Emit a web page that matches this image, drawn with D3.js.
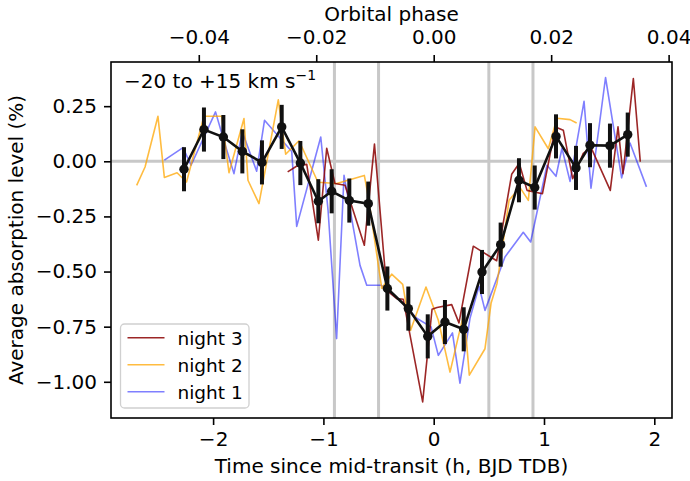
<!DOCTYPE html>
<html>
<head>
<meta charset="utf-8">
<script src="https://cdn.jsdelivr.net/npm/d3@7"></script>
<style>
  body { margin: 0; background: #fff; }
  text { font-family: "DejaVu Sans", sans-serif; }
</style>
</head>
<body>
<svg id="chart"></svg>
<script>
// light curve of the absorption, binned + the three nights

let width = 690, height = 481;
let margin = {top: 62, right: 18, bottom: 63, left: 111};

// orbital period in hours, used for the top axis
let periodHours = 2.21857 * 24;

// binned points (black)
let binT = [-2.264, -2.083, -1.907, -1.735, -1.557, -1.378, -1.209, -1.046, -0.925, -0.765,
  -0.593, -0.42, -0.23, -0.054, 0.102, 0.272, 0.438, 0.607, 0.773, 0.916,
  1.109, 1.29, 1.417, 1.598, 1.759];
let binY = [-0.036, 0.144, 0.110, 0.045, -0.005, 0.156, -0.008, -0.181, -0.136, -0.178,
  -0.192, -0.577, -0.668, -0.794, -0.729, -0.762, -0.502, -0.378, -0.086, -0.119,
  0.113, -0.030, 0.073, 0.071, 0.121];
let binErr = [0.10, 0.10, 0.10, 0.10, 0.10, 0.10, 0.10, 0.10, 0.10, 0.10,
  0.10, 0.10, 0.10, 0.10, 0.10, 0.10, 0.10, 0.10, 0.10, 0.10,
  0.10, 0.10, 0.10, 0.10, 0.10];

// night 1 (blue)
let n1T = [-2.442, -2.273, -2.200, -1.978, -1.908, -1.811, -1.735, -1.605, -1.534, -1.287,
  -1.242, -1.024, -0.958, -0.880, -0.813, -0.668, -0.607, -0.478, -0.290, -0.154,
  -0.024, 0.042, 0.170, 0.238, 0.329, 0.411, 0.465, 0.646, 0.812, 0.879,
  1.027, 1.109, 1.163, 1.236, 1.363, 1.426, 1.558, 1.704, 1.780, 1.929];
let n1Y = [0.005, 0.062, -0.018, 0.224, 0.103, -0.056, 0.133, -0.045, 0.186, 0.044,
  -0.295, 0.110, -0.220, -0.804, -0.064, -0.472, -0.562, -0.562, -0.638, -0.712,
  -0.751, -0.880, -0.778, -1.006, -0.712, -0.567, -0.676, -0.434, -0.322, -0.366,
  -0.018, -0.068, 0.059, -0.091, 0.272, -0.122, 0.380, -0.075, 0.083, -0.116];

// night 2 (orange)
let n2T = [-2.693, -2.617, -2.500, -2.442, -2.327, -2.241, -2.083, -1.922, -1.856, -1.720,
  -1.684, -1.584, -1.409, -1.342, -1.221, -1.049, -0.879, -0.629, -0.593, -0.471,
  -0.381, -0.281, -0.210, -0.070, 0.042, 0.148, 0.275, 0.323, 0.465, 0.520,
  0.574, 0.619, 0.683, 0.782, 0.858, 0.919, 1.039, 1.118, 1.236, 1.296];
let n2Y = [-0.109, -0.026, 0.204, -0.073, -0.052, -0.094, 0.204, 0.204, -0.052, 0.194,
  -0.086, -0.192, 0.279, 0.032, 0.093, -0.095, -0.101, -0.064, -0.161, -0.576,
  -0.512, -0.558, -0.767, -0.570, -0.721, -0.956, -0.685, -0.970, -0.850, -0.644,
  -0.554, -0.404, -0.177, -0.118, -0.177, 0.156, 0.057, 0.195, 0.189, 0.174];

// night 3 (dark red)
let n3T = [-1.324, -1.230, -1.151, -1.046, -0.970, -0.895, -0.804, -0.629, -0.537, -0.426,
  -0.335, -0.276, -0.100, -0.015, 0.030, 0.163, 0.229, 0.359, 0.571, 0.707,
  0.776, 0.846, 0.986, 1.104, 1.175, 1.260, 1.356, 1.426, 1.601, 1.671,
  1.716, 1.810, 1.873];
let n3Y = [-0.048, -0.018, -0.014, -0.358, 0.059, -0.101, -0.109, -0.381, 0.078, -0.585,
  -0.623, -0.626, -1.091, -0.671, -0.663, -0.650, -0.733, -0.385, -0.451, -0.059,
  -0.009, -0.132, -0.147, 0.156, 0.141, -0.079, 0.036, 0.063, -0.132, 0.156,
  -0.056, 0.375, -0.002];

// contact points (h)
let contacts = [-0.9, -0.5, 0.5, 0.9];

let nights = [
  {name: "night 3", t: n3T, y: n3Y, color: "#8b0000", alpha: 0.85},
  {name: "night 2", t: n2T, y: n2Y, color: "#ffa500", alpha: 0.75},
  {name: "night 1", t: n1T, y: n1Y, color: "#0000ff", alpha: 0.5}
];

let svg = d3.select("#chart")
  .attr("width", width)
  .attr("height", height);

let x = d3.scaleLinear()
  .domain([-2.9257, 2.1605])
  .range([margin.left, width - margin.right]);

let y = d3.scaleLinear()
  .domain([-1.1642, 0.4503])
  .range([height - margin.bottom, margin.top]);

let xPhase = d3.scaleLinear()
  .domain(x.domain().map(d => d / periodHours))
  .range(x.range());

let plot = svg.append("g");

// grey reference lines
plot.append("line")
  .attr("x1", x.range()[0]).attr("x2", x.range()[1])
  .attr("y1", y(0)).attr("y2", y(0))
  .attr("stroke", "#c8c8c8").attr("stroke-width", 3);

plot.selectAll(".contact")
  .data(contacts)
  .enter()
  .append("line")
  .attr("class", "contact")
  .attr("x1", d => x(d)).attr("x2", d => x(d))
  .attr("y1", y.range()[0]).attr("y2", y.range()[1])
  .attr("stroke", "#c8c8c8").attr("stroke-width", 3);

let line = d3.line()
  .x(d => x(d[0]))
  .y(d => y(d[1]));

// nights, drawn night 1 first so night 3 is on top
nights.slice().reverse().forEach(n => {
  plot.append("path")
    .datum(n.t.map((t, i) => [t, n.y[i]]))
    .attr("fill", "none")
    .attr("stroke", n.color)
    .attr("stroke-opacity", n.alpha)
    .attr("stroke-width", 1.6)
    .attr("stroke-linejoin", "round")
    .attr("d", line);
});

let bins = binT.map((t, i) => ({t: t, y: binY[i], e: binErr[i]}));

plot.selectAll(".err")
  .data(bins)
  .enter()
  .append("line")
  .attr("class", "err")
  .attr("x1", d => x(d.t)).attr("x2", d => x(d.t))
  .attr("y1", d => y(d.y - d.e)).attr("y2", d => y(d.y + d.e))
  .attr("stroke", "#111").attr("stroke-width", 4);

plot.append("path")
  .datum(bins.map(d => [d.t, d.y]))
  .attr("fill", "none")
  .attr("stroke", "#111")
  .attr("stroke-width", 2.6)
  .attr("d", line);

plot.selectAll(".pt")
  .data(bins)
  .enter()
  .append("circle")
  .attr("class", "pt")
  .attr("cx", d => x(d.t))
  .attr("cy", d => y(d.y))
  .attr("r", 4.7)
  .attr("fill", "#111");

// frame
svg.append("rect")
  .attr("x", x.range()[0]).attr("y", y.range()[1])
  .attr("width", x.range()[1] - x.range()[0])
  .attr("height", y.range()[0] - y.range()[1])
  .attr("fill", "none")
  .attr("stroke", "#000")
  .attr("stroke-width", 1.6);

// axes
let xAxis = svg.append("g")
  .attr("transform", "translate(0," + y.range()[0] + ")")
  .call(d3.axisBottom(x).tickValues([-2, -1, 0, 1, 2]).tickFormat(d3.format("d"))
    .tickSize(7).tickPadding(7).tickSizeOuter(0));

let topAxis = svg.append("g")
  .attr("transform", "translate(0," + y.range()[1] + ")")
  .call(d3.axisTop(xPhase).tickValues([-0.04, -0.02, 0, 0.02, 0.04]).tickFormat(d3.format(".2f"))
    .tickSize(7).tickPadding(11).tickSizeOuter(0));

let yAxis = svg.append("g")
  .attr("transform", "translate(" + x.range()[0] + ",0)")
  .call(d3.axisLeft(y).tickValues([-1, -0.75, -0.5, -0.25, 0, 0.25]).tickFormat(d3.format(".2f"))
    .tickSize(7).tickPadding(7).tickSizeOuter(0));

[xAxis, topAxis, yAxis].forEach(a => {
  a.select(".domain").remove();
  a.selectAll(".tick line").attr("stroke", "#000").attr("stroke-width", 1.6);
  a.selectAll(".tick text")
    .attr("fill", "#000")
    .style("font-size", "20px")
    .style("font-family", "DejaVu Sans");
});

// axis labels
svg.append("text")
  .attr("x", (x.range()[0] + x.range()[1]) / 2)
  .attr("y", 473)
  .attr("text-anchor", "middle")
  .style("font-size", "20px")
  .text("Time since mid-transit (h, BJD TDB)");

svg.append("text")
  .attr("x", (x.range()[0] + x.range()[1]) / 2)
  .attr("y", 21)
  .attr("text-anchor", "middle")
  .style("font-size", "20px")
  .text("Orbital phase");

svg.append("text")
  .attr("transform", "translate(23," + ((y.range()[0] + y.range()[1]) / 2) + ") rotate(-90)")
  .attr("text-anchor", "middle")
  .style("font-size", "20px")
  .text("Average absorption level (%)");

// velocity range note
let note = svg.append("text")
  .attr("x", 124)
  .attr("y", 88)
  .style("font-size", "20px");
note.append("tspan").text("\u221220 to +15 km s");
note.append("tspan")
  .attr("dy", -8)
  .style("font-size", "14px")
  .text("\u22121");

// legend
let legend = svg.append("g");
legend.append("rect")
  .attr("x", 120.5).attr("y", 324)
  .attr("width", 128.5).attr("height", 84)
  .attr("rx", 4)
  .attr("fill", "#fff").attr("fill-opacity", 0.8)
  .attr("stroke", "#d0d0d0").attr("stroke-width", 1.3);

let items = legend.selectAll(".item")
  .data(nights)
  .enter()
  .append("g")
  .attr("class", "item")
  .attr("transform", (d, i) => "translate(0," + (337.7 + i * 27) + ")");

items.append("line")
  .attr("x1", 127.5).attr("x2", 164.5)
  .attr("stroke", d => d.color)
  .attr("stroke-opacity", d => d.alpha)
  .attr("stroke-width", 1.6);

items.append("text")
  .attr("x", 177.5)
  .attr("y", 7)
  .style("font-size", "18.5px")
  .text(d => d.name);
</script>
</body>
</html>
